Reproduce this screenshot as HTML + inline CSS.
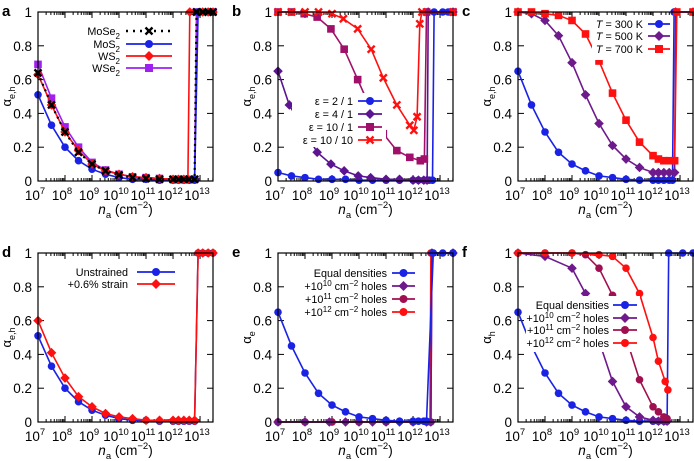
<!DOCTYPE html>
<html><head><meta charset="utf-8"><style>
html,body{margin:0;padding:0;background:#fff;}
svg{display:block;font-family:"Liberation Sans",sans-serif;}
</style></head><body>
<svg id="fig" width="694" height="461" viewBox="0 0 694 461"></svg>
<script>
// ---- data (x = log10 n_a, y = alpha) ----
const xTickExps = [7,8,9,10,11,12,13];
const yTickVals = [0,0.2,0.4,0.6,0.8,1];
const yTickLabels = ["0","0.2","0.4","0.6","0.8","1"];

const aMoSe2X = [7,7.5,8,8.5,9,9.5,10,10.5,11,11.5,12,12.2,12.4,12.6,12.8,12.87,13.1,13.3,13.48];
const aMoSe2Y = [.64,.45,.29,.17,.10,.06,.035,.02,.015,.01,.01,.01,.01,.01,.01,1,1,1,1];
const aMoS2X = [7,7.5,8,8.5,9,9.5,10,10.5,11,11.5,12,12.2,12.4,12.6,12.8,12.93,13.1,13.3,13.48];
const aMoS2Y = [.51,.33,.20,.12,.07,.04,.02,.01,.01,.005,.005,.005,.005,.005,.005,1,1,1,1];
const aWS2X = [7,7.5,8,8.5,9,9.5,10,10.5,11,11.5,12,12.2,12.4,12.55,12.62,13.1,13.3,13.48];
const aWS2Y = [.63,.45,.29,.18,.10,.06,.04,.025,.02,.015,.01,.01,.01,.01,1,1,1,1];
const aWSe2X = [7,7.5,8,8.5,9,9.5,10,10.5,11,11.5,12,12.2,12.4,12.6,12.8,12.87,13.48];
const aWSe2Y = [.69,.49,.32,.20,.11,.065,.04,.025,.02,.015,.01,.01,.01,.01,.01,1,1];

const b1X = [7,7.5,8,8.5,9,9.5,10,10.5,11,11.5,12,12.2,12.4,12.6,12.72,12.78,13.1,13.3,13.48];
const b1Y = [.05,.03,.02,.01,.01,.01,.005,.005,.005,.005,.005,.005,.005,.005,.005,1,1,1,1];
const b2X = [7,7.42,8.45,8.96,9.45,9.97,10.43,11,11.5,12,12.2,12.4,12.52,12.56,13.48];
const b2Y = [.65,.45,.17,.10,.06,.03,.02,.01,.01,.005,.005,.005,.005,1,1];
const b3X = [7,7.5,7.97,8.45,8.96,9.45,9.95,10.45,10.9,11.4,11.88,12.27,12.42,12.5,13.48];
const b3Y = [1,1,.99,.97,.90,.78,.60,.42,.28,.18,.14,.12,.13,1,1];
const b4X = [7,7.5,8,8.5,9,9.42,9.95,10.45,10.9,11.4,11.88,12.03,12.15,12.25,12.33,13.48];
const b4Y = [1,1,1,1,.99,.96,.90,.78,.61,.45,.33,.30,.38,.93,1,1];

const c1X = [7,7.5,8,8.5,9,9.5,10,10.5,11,11.5,12,12.2,12.4,12.6,12.72,12.78,13.48];
const c1Y = [.65,.45,.29,.17,.10,.06,.03,.02,.01,.005,.005,.005,.005,.005,.005,1,1];
const c2X = [7,7.5,8,8.5,9,9.5,10,10.5,11,11.5,12,12.2,12.4,12.6,12.8,12.84,13.48];
const c2Y = [1,.99,.95,.86,.70,.51,.34,.21,.13,.08,.05,.05,.05,.05,.05,1,1];
const c3X = [7,7.5,8,8.5,9,9.5,10,10.5,11,11.5,12,12.2,12.4,12.6,12.8,12.88,13.48];
const c3Y = [1,1,.99,.98,.95,.87,.71,.52,.36,.23,.15,.13,.12,.12,.12,1,1];

const d1X = aMoS2X;
const d1Y = aMoS2Y;
const d2X = [7,7.5,8,8.5,9,9.5,10,10.5,11,11.5,12,12.2,12.4,12.6,12.8,12.93,13.1,13.3,13.48];
const d2Y = [.60,.41,.26,.15,.09,.05,.03,.02,.01,.01,.01,.01,.01,.01,.01,1,1,1,1];

const e1X = [7,7.5,8,8.5,9,9.5,10,10.5,11,11.5,12,12.2,12.4,12.5,12.75,13.1,13.48];
const e1Y = [.65,.45,.29,.17,.10,.06,.03,.02,.01,.005,.005,.005,.005,.005,1,1,1];
const e2X = [7,8,8.9,9.5,10,10.5,11,11.5,12,12.5,12.66,12.7,13.48];
const e2Y = [0,0,0,0,0,0,0,0,0,0,0,1,1];
const e3X = [7,8,9,10,11,12,12.5,12.66,12.7,13.48];
const e3Y = [0,0,0,0,0,0,0,0,1,1];
const e4X = [7,8,9,10,11,12,12.5,12.63,12.66,13.48];
const e4Y = [0,0,0,0,0,0,0,0,1,1];

const f1X = [7,7.5,8,8.5,9,9.5,10,10.5,11,11.5,12,12.2,12.4,12.52,12.58,13.1,13.48];
const f1Y = [.65,.45,.29,.17,.10,.06,.03,.02,.01,.005,.005,.005,.005,.005,1,1,1];
const f2X = [7,8,9,9.5,10,10.5,11,11.5,12,12.2,12.4,12.52];
const f2Y = [1,.98,.91,.76,.48,.24,.09,.03,.01,.005,.005,.005];
const f3X = [7,8,9,9.5,10,10.5,11,11.5,12,12.2,12.4,12.52];
const f3Y = [1,1,1,.99,.91,.75,.50,.25,.09,.06,.03,.02];
const f4X = [7,8,9,10,10.5,11,11.5,12,12.2,12.45,12.55];
const f4Y = [1,1,1,.99,.98,.91,.76,.50,.36,.24,.19];

// ---- layout ----
const NS = "http://www.w3.org/2000/svg";
const svg = document.getElementById("fig");
const PW = 175, PH = 169, XMIN = 7, XMAX = 13.48;
const BLUE = "#1a22e6", RED = "#ff1010", VIOLET = "#a020f0";
const PURP = "#5c1490", MAROON = "#a0106a", DPURP = "#6e1a8c", DMAR = "#a01050";
const LFS = 10.8;

function el(tag, attrs, parent) {
  const e = document.createElementNS(NS, tag);
  for (const k in attrs) e.setAttribute(k, attrs[k]);
  (parent || svg).appendChild(e);
  return e;
}

function makePanel(letter, lx, x0, y0, ylabMain, ylabSub) {
  const g = el("g", {});
  
  
  const sx = v => x0 + (v - XMIN) / (XMAX - XMIN) * PW;
  const sy = v => y0 + (1 - v) * PH;
  const L = el("text", {x: lx, y: y0 + 4, "font-size": 15, "font-weight": "bold"}, g);
  L.textContent = letter;
  
  
  const tk = el("g", {stroke: "#000", "stroke-width": 1}, g);
  
  
  for (let d = 7; d <= 13; d++) {
    for (let m = 1; m <= 9; m++) {
      const v = d + Math.log10(m);
      if (v > XMAX) continue;
      const len = m === 1 ? 6 : 3;
      const px = sx(v);
      el("line", {x1: px, x2: px, y1: y0 + PH, y2: y0 + PH - len}, tk);
      el("line", {x1: px, x2: px, y1: y0, y2: y0 + len}, tk);
    }
  }
  yTickVals.forEach((v, i) => {
    const py = sy(v);
    el("line", {x1: x0, x2: x0 + 6, y1: py, y2: py}, tk);
    el("line", {x1: x0 + PW, x2: x0 + PW - 6, y1: py, y2: py}, tk);
    const t = el("text", {x: x0 - 6, y: py + 5, "font-size": 13.5, "text-anchor": "end"}, g);
    t.textContent = yTickLabels[i];
    
    
  });
  xTickExps.forEach(e => {
    const t = el("text", {x: sx(e) - 3, y: y0 + PH + 19, "font-size": 13.5, "text-anchor": "middle"}, g);
    
    
    const a = el("tspan", {}, t); a.textContent = "10";
    const b = el("tspan", {dy: -6, "font-size": 9.5}, t); b.textContent = String(e);
  });
  const yt = el("text", {x: 0, y: 0, "font-size": 13, "text-anchor": "middle",
    transform: `translate(${x0 - 27},${y0 + PH / 2}) rotate(-90)`}, g);
  
  
  const ya = el("tspan", {}, yt); ya.textContent = ylabMain;
  const yb = el("tspan", {dy: 4, "font-size": 9}, yt); yb.textContent = ylabSub;
  const xt = el("text", {x: x0 + PW / 2, y: y0 + PH + 33, "font-size": 13.5, "text-anchor": "middle"}, g);
  
  
  const n1 = el("tspan", {"font-style": "italic"}, xt); n1.textContent = "n";
  const n2 = el("tspan", {dy: 4, "font-size": 9.5}, xt); n2.textContent = "a";
  const n3 = el("tspan", {dy: -4}, xt); n3.textContent = " (cm";
  const n4 = el("tspan", {dy: -6, "font-size": 9.5}, xt); n4.textContent = "\u22122";
  const n5 = el("tspan", {dy: 6}, xt); n5.textContent = ")";
  const plot = el("g", {}, g);
  
  
  const frame = () => {
    const f = el("rect", {x: x0, y: y0, width: PW, height: PH, fill: "none", stroke: "#000", "stroke-width": 1.2}, g);
    
    
  };
  return {g, plot, sx, sy, frame, x0, y0};
}

function marker(parent, type, cx, cy, color, r) {
  r = r || 4;
  let m;
  if (type === "circle") m = el("circle", {cx, cy, r, fill: color}, parent);
  else if (type === "square") m = el("rect", {x: cx - r, y: cy - r, width: 2 * r, height: 2 * r, fill: color}, parent);
  else if (type === "diamond") m = el("polygon", {points: `${cx},${cy - r - 1} ${cx + r + 1},${cy} ${cx},${cy + r + 1} ${cx - r - 1},${cy}`, fill: color}, parent);
  else {
    m = el("path", {d: `M${cx - r},${cy - r}L${cx + r},${cy + r}M${cx + r},${cy - r}L${cx - r},${cy + r}`, stroke: color, "stroke-width": 2.4, fill: "none"}, parent);
  }
  return m;
}

function series(P, name, xs, ys, color, mk, dashed) {
  const g = el("g", {}, P.plot);
  
  
  const d = xs.map((x, i) => (i ? "L" : "M") + P.sx(x).toFixed(1) + "," + P.sy(ys[i]).toFixed(1)).join("");
  const line = el("path", {d, fill: "none", stroke: color, "stroke-width": dashed ? 2.2 : 1.6,
    "stroke-dasharray": dashed ? "2,4" : "none"}, g);
  
  
  xs.forEach((x, i) => {
    const m = marker(g, mk, P.sx(x), P.sy(ys[i]), color, mk === "cross" ? 3.5 : 3.8);
    
    
  });
}

function legend(P, box, entries, textRight, lineX1, lineX2, ys) {
  const g = el("g", {}, P.g);
  
  
  el("rect", {x: box[0], y: box[1], width: box[2], height: box[3], fill: "#fff"}, g);
  entries.forEach((en, i) => {
    const eg = el("g", {}, g);
    
    
    const t = el("text", {x: textRight, y: ys[i] + 4, "font-size": LFS, "text-anchor": "end"}, eg);
    en.label.forEach(part => {
      const s = el("tspan", part.attrs || {}, t);
      s.textContent = part.t;
    });
    el("line", {x1: lineX1, x2: lineX2, y1: ys[i], y2: ys[i], stroke: en.color, "stroke-width": en.dashed ? 2.4 : 1.8,
      "stroke-dasharray": en.dashed ? "2,5" : "none"}, eg);
    marker(eg, en.mk, (lineX1 + lineX2) / 2, ys[i], en.color, en.mk === "cross" ? 3.5 : 4);
  });
}
const sub = s => [{t: s.slice(0, -1)}, {t: s.slice(-1), attrs: {dy: 4, "font-size": 8}}, {t: "", attrs: {dy: -4}}];
const holes = e => [{t: "+10"}, {t: e, attrs: {dy: -4, "font-size": 8}}, {t: " cm", attrs: {dy: 4}}, {t: "\u22122", attrs: {dy: -4, "font-size": 8}}, {t: " holes", attrs: {dy: 4}}];

// ---- panel a ----
const A = makePanel("a", 2, 38, 12, "\u03b1", "e,h");
series(A, "wse2", aWSe2X, aWSe2Y, VIOLET, "square");
series(A, "mos2", aMoS2X, aMoS2Y, BLUE, "circle");
series(A, "ws2", aWS2X, aWS2Y, RED, "diamond");
series(A, "mose2", aMoSe2X, aMoSe2Y, "#000", "cross", true);
A.frame();
legend(A, [74, 24, 104, 52], [
  {label: sub("MoSe2"), color: "#000", mk: "cross", dashed: true},
  {label: sub("MoS2"), color: BLUE, mk: "circle"},
  {label: sub("WS2"), color: RED, mk: "diamond"},
  {label: sub("WSe2"), color: VIOLET, mk: "square"}], 120, 126, 172, [31, 44, 56, 68]);

// ---- panel b ----
const B = makePanel("b", 232, 278, 12, "\u03b1", "e,h");
series(B, "eps-2-1", b1X, b1Y, BLUE, "circle");
series(B, "eps-4-1", b2X, b2Y, PURP, "diamond");
series(B, "eps-10-1", b3X, b3Y, MAROON, "square");
series(B, "eps-10-10", b4X, b4Y, RED, "cross");
B.frame();
legend(B, [292, 93, 94, 54], [
  {label: [{t: "\u03b5 = 2 / 1"}], color: BLUE, mk: "circle"},
  {label: [{t: "\u03b5 = 4 / 1"}], color: PURP, mk: "diamond"},
  {label: [{t: "\u03b5 =  10 / 1"}], color: MAROON, mk: "square"},
  {label: [{t: "\u03b5 = 10 / 10"}], color: RED, mk: "cross"}], 353, 358, 382, [101, 114, 127, 140]);

// ---- panel c ----
const C = makePanel("c", 462, 518, 12, "\u03b1", "e,h");
series(C, "t300", c1X, c1Y, BLUE, "circle");
series(C, "t500", c2X, c2Y, DPURP, "diamond");
series(C, "t700", c3X, c3Y, RED, "square");
C.frame();
const tl = k => [{t: "T", attrs: {"font-style": "italic"}}, {t: " = " + k + " K", attrs: {"font-style": "normal"}}];
legend(C, [592, 16, 80, 44], [
  {label: tl(300), color: BLUE, mk: "circle"},
  {label: tl(500), color: DPURP, mk: "diamond"},
  {label: tl(700), color: RED, mk: "square"}], 643, 648, 670, [24, 36, 49]);

// ---- panel d ----
const D = makePanel("d", 2, 38, 253, "\u03b1", "e,h");
series(D, "unstrained", d1X, d1Y, BLUE, "circle");
series(D, "strain", d2X, d2Y, RED, "diamond");
D.frame();
legend(D, [70, 264, 110, 28], [
  {label: [{t: "Unstrained"}], color: BLUE, mk: "circle"},
  {label: [{t: "+0.6% strain"}], color: RED, mk: "diamond"}], 128, 137, 175, [272, 284]);

// ---- panel e ----
const E = makePanel("e", 232, 278, 253, "\u03b1", "e");
series(E, "holes-1e12", e4X, e4Y, RED, "circle");
series(E, "holes-1e11", e3X, e3Y, DMAR, "circle");
series(E, "holes-1e10", e2X, e2Y, DPURP, "diamond");
series(E, "equal", e1X, e1Y, BLUE, "circle");
E.frame();
const leg4 = [
  {label: [{t: "Equal densities"}], color: BLUE, mk: "circle"},
  {label: holes("10"), color: DPURP, mk: "diamond"},
  {label: holes("11"), color: DMAR, mk: "circle"},
  {label: holes("12"), color: RED, mk: "circle"}];
legend(E, [316, 264, 104, 56], leg4, 387, 392, 415, [273, 286, 299, 312]);

// ---- panel f ----
const F = makePanel("f", 462, 518, 253, "\u03b1", "h");
series(F, "equal", f1X, f1Y, BLUE, "circle");
series(F, "holes-1e10", f2X, f2Y, DPURP, "diamond");
series(F, "holes-1e11", f3X, f3Y, DMAR, "circle");
series(F, "holes-1e12", f4X, f4Y, RED, "circle");
F.frame();
legend(F, [526, 296, 114, 56], leg4, 609, 613, 637, [305, 318, 330, 343]);
</script>
</body></html>
